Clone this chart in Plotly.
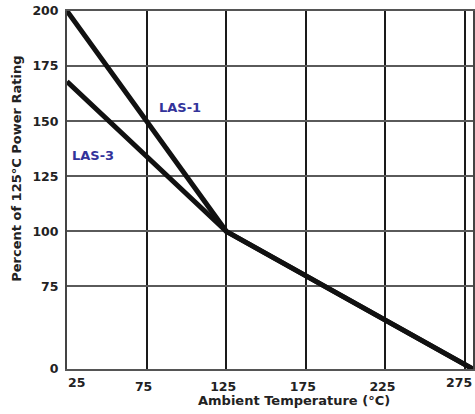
import plotly.graph_objects as go

# ---- data ----
temps = [25, 125, 280]
las1_pct = [200, 100, 0]
las3_pct = [168, 100, 0]
x_ticks = [25, 75, 125, 175, 225, 275]
y_ticks = [0, 75, 100, 125, 150, 175, 200]
series_names = ["LAS-1", "LAS-3"]
x_title = "Ambient Temperature (°C)"
y_title = "Percent of 125°C Power Rating"

# broken y axis: the 0-75 span is compressed
Y_BREAK = 75
COMPRESS = 0.5


def to_axis(v):
    return v if v >= Y_BREAK else Y_BREAK - (Y_BREAK - v) * COMPRESS


FONT = "DejaVu Sans, Verdana, sans-serif"
TXT = "#222222"
tick_font = dict(size=12.5, family=FONT, color=TXT)
title_font = dict(size=13, family=FONT, color=TXT)

fig = go.Figure()
for name, vals in [(series_names[1], las3_pct), (series_names[0], las1_pct)]:
    fig.add_trace(go.Scatter(x=temps, y=[to_axis(v) for v in vals], mode="lines",
                             line=dict(color="#111111", width=5), name=name,
                             showlegend=False, hoverinfo="x+y+name"))

x_range = [25, 280]
y_range = [to_axis(0), 200]

fig.update_layout(
    width=475, height=414,
    margin=dict(l=67, r=2, t=11, b=45, autoexpand=False),
    paper_bgcolor="white", plot_bgcolor="white",
    font=dict(family=FONT, color=TXT),
    xaxis=dict(
        range=x_range, tickmode="array", tickvals=x_ticks,
        ticktext=["" if t in (x_ticks[0], x_ticks[-1]) else f"<b>{t}</b>" for t in x_ticks],
        showgrid=True, gridcolor="#1a1a1a", gridwidth=1.5,
        showline=True, linecolor="#555555", linewidth=2, mirror=True,
        zeroline=False, ticks="", tickfont=tick_font, automargin=False,
        ticklabelshift=-3, ticklabelstandoff=5,
    ),
    yaxis=dict(
        range=y_range, tickmode="array", tickvals=[to_axis(t) for t in y_ticks],
        ticktext=[f"<b>{t}</b>" for t in y_ticks],
        showgrid=True, gridcolor="#5a5a5a", gridwidth=1.5,
        showline=True, linecolor="#444444", linewidth=2, mirror=True,
        zeroline=False, ticks="", tickfont=tick_font, automargin=False,
        ticklabelstandoff=4,
    ),
    annotations=[
        dict(x=x_range[0], y=0, xref="x", yref="paper", yanchor="top", xanchor="left",
             text=f"<b>{x_ticks[0]}</b>", showarrow=False, yshift=-4, xshift=-1,
             font=tick_font),
        dict(x=x_range[1], y=0, xref="x", yref="paper", yanchor="top", xanchor="right",
             text=f"<b>{x_ticks[-1]}</b>", showarrow=False, yshift=-4, xshift=1,
             font=tick_font),
        dict(x=0.559, y=-0.087, xref="paper", yref="paper", text=f"<b>{x_title}</b>",
             xanchor="center", yanchor="middle", showarrow=False, font=title_font),
        dict(x=-0.125, y=0.56, xref="paper", yref="paper", text=f"<b>{y_title}</b>",
             xanchor="center", yanchor="middle", textangle=-90, showarrow=False,
             font=title_font),
        dict(x=96, y=to_axis(156), xref="x", yref="y", text=f"<b>{series_names[0]}</b>",
             showarrow=False, font=dict(size=13, family=FONT, color="#33339a")),
        dict(x=41.6, y=to_axis(134.6), xref="x", yref="y", text=f"<b>{series_names[1]}</b>",
             showarrow=False, font=dict(size=13, family=FONT, color="#33339a")),
    ],
)

fig.write_html("out.html", config={"displayModeBar": False},
               post_script="document.body.style.margin='0';")
